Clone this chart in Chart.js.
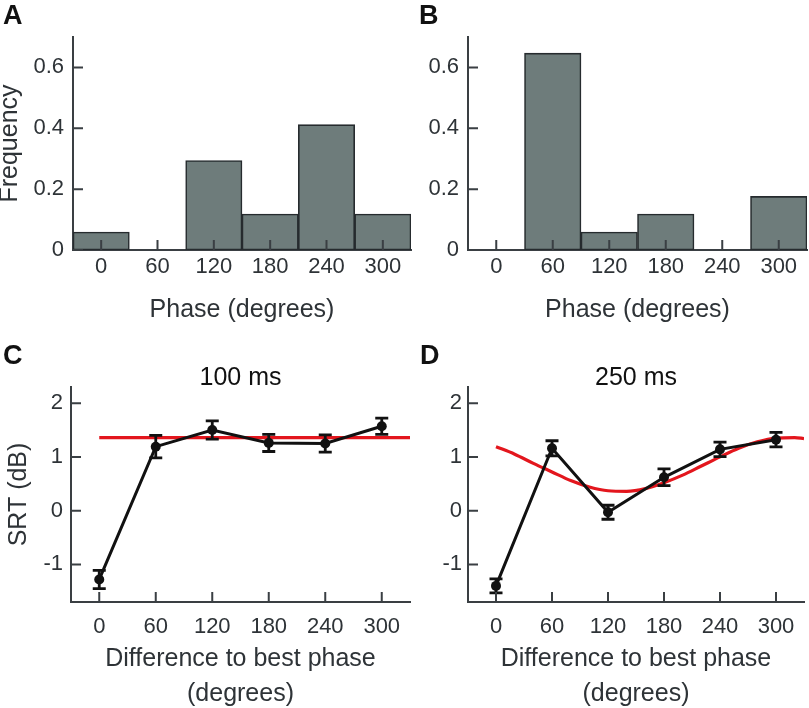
<!DOCTYPE html>
<html>
<head>
<meta charset="utf-8">
<script src="https://cdn.jsdelivr.net/npm/chart.js@4.4.1/dist/chart.umd.min.js"></script>
<style>
  body { margin: 0; background: #fff; overflow: hidden; }
  #wrap { position: relative; width: 809px; height: 708px; }
  canvas { position: absolute; }
  .letter { position: absolute; font: bold 27px 'Liberation Sans', Arial, sans-serif; line-height: 1; color: #111; }
</style>
</head>
<body>
<div id="wrap">
  <canvas id="chartA" width="415" height="340" style="left:0;top:0"></canvas>
  <canvas id="chartB" width="409" height="340" style="left:400px;top:0"></canvas>
  <canvas id="chartC" width="415" height="372" style="left:0;top:340px"></canvas>
  <canvas id="chartD" width="409" height="372" style="left:400px;top:340px"></canvas>
  <div class="letter" style="left:3px;top:2px">A</div>
  <div class="letter" style="left:419px;top:2px">B</div>
  <div class="letter" style="left:3px;top:342px">C</div>
  <div class="letter" style="left:420px;top:342px">D</div>
</div>
<script>
// histogram data (panels A, B)
const phaseLabels = ['0', '60', '120', '180', '240', '300'];
const freqA = [0.059, 0, 0.294, 0.118, 0.412, 0.118];
const freqB = [0, 0.647, 0.059, 0.118, 0, 0.176];
const freqTicks = [0, 0.2, 0.4, 0.6];

// SRT data (panels C, D)
const diffDeg = [0, 60, 120, 180, 240, 300];
const srt100 = [-1.28, 1.19, 1.50, 1.26, 1.25, 1.57];
const err100 = [0.17, 0.21, 0.17, 0.16, 0.16, 0.15];
const fit100X = [0, 330];
const fit100Y = [1.36, 1.36];
const srt250 = [-1.40, 1.16, -0.03, 0.62, 1.14, 1.32];
const err250 = [0.13, 0.14, 0.13, 0.155, 0.135, 0.135];
const fit250X = [0, 20, 40, 60, 80, 100, 120, 140, 160, 180, 200, 220, 240, 260, 280, 300, 320, 330];
const fit250Y = [1.19, 1.05, 0.88, 0.72, 0.56, 0.44, 0.37, 0.36, 0.41, 0.52, 0.66, 0.83, 1.00, 1.16, 1.28, 1.35, 1.36, 1.34];
const srtTicks = [-1, 0, 1, 2];

const axisColor = '#3a3f43';
const textColor = '#2e3337';
Chart.defaults.font.family = "'Liberation Sans', Arial, sans-serif";
Chart.defaults.color = textColor;

// MATLAB style: tick marks point into the plot
const inwardTicks = {
  id: 'inwardTicks',
  afterDatasetsDraw(chart) {
    const ctx = chart.ctx;
    const { left, bottom } = chart.chartArea;
    const xs = chart.scales.x, ys = chart.scales.y;
    ctx.save();
    ctx.strokeStyle = axisColor;
    ctx.lineWidth = 2;
    ctx.beginPath();
    xs.ticks.forEach((t, i) => {
      const px = xs.getPixelForTick(i);
      ctx.moveTo(px, bottom);
      ctx.lineTo(px, bottom - 10);
    });
    ys.ticks.forEach((t, i) => {
      const py = ys.getPixelForTick(i);
      ctx.moveTo(left, py);
      ctx.lineTo(left + 10, py);
    });
    ctx.stroke();
    ctx.restore();
  }
};

// error bars for the first dataset
const errBars = {
  id: 'errBars',
  afterDatasetDraw(chart, args, opts) {
    if (args.index !== 0 || !opts.values) return;
    const ctx = chart.ctx;
    const xs = chart.scales.x, ys = chart.scales.y;
    const ds = chart.data.datasets[0].data;
    ctx.save();
    ctx.strokeStyle = '#111';
    ctx.lineWidth = 2.8;
    ctx.beginPath();
    ds.forEach((p, i) => {
      const px = xs.getPixelForValue(p.x);
      const top = ys.getPixelForValue(p.y + opts.values[i]);
      const bot = ys.getPixelForValue(p.y - opts.values[i]);
      ctx.moveTo(px, top); ctx.lineTo(px, bot);
      ctx.moveTo(px - 6.5, top); ctx.lineTo(px + 6.5, top);
      ctx.moveTo(px - 6.5, bot); ctx.lineTo(px + 6.5, bot);
    });
    ctx.stroke();
    ctx.restore();
  }
};

function histogram(id, values, yWidth, padRight, yTitle) {
  return new Chart(document.getElementById(id), {
    type: 'bar',
    data: {
      labels: phaseLabels,
      datasets: [{
        data: values,
        backgroundColor: '#6e7c7b',
        borderColor: '#262b2e',
        borderWidth: 1.6,
        borderSkipped: false,
        categoryPercentage: 1,
        barPercentage: 1,
      }],
    },
    options: {
      responsive: false,
      animation: false,
      layout: { padding: { top: 37, right: padRight, left: 0, bottom: 0 } },
      plugins: { legend: { display: false }, tooltip: { enabled: false } },
      scales: {
        x: {
          type: 'category',
          offset: true,
          grid: { display: false, drawTicks: false },
          border: { display: true, color: axisColor, width: 2 },
          ticks: { font: { size: 22 }, padding: 4, maxRotation: 0 },
          title: { display: true, text: 'Phase (degrees)', font: { size: 25 }, padding: { top: 0, bottom: 15 } },
          afterFit: (s) => { s.height = 90; },
        },
        y: {
          min: 0,
          max: 0.7,
          grid: { display: false, drawTicks: false },
          border: { display: true, color: axisColor, width: 2 },
          ticks: { font: { size: 22 }, padding: 9 },
          title: { display: !!yTitle, text: yTitle || '', font: { size: 25 }, padding: { top: -4.5 } },
          afterBuildTicks: (s) => { s.ticks = freqTicks.map(v => ({ value: v })); },
          afterFit: (s) => { s.width = yWidth; },
        },
      },
    },
    plugins: [inwardTicks],
  });
}

function srtPanel(id, values, errs, fitX, fitY, title, yWidth, padRight, yPad, yTitle) {
  return new Chart(document.getElementById(id), {
    type: 'line',
    data: {
      datasets: [
        {
          data: diffDeg.map((d, i) => ({ x: d, y: values[i] })),
          borderColor: '#111',
          borderWidth: 3,
          pointRadius: 5,
          pointBackgroundColor: '#111',
          pointBorderWidth: 0,
        },
        {
          data: fitX.map((d, i) => ({ x: d, y: fitY[i] })),
          borderColor: '#e3161d',
          borderWidth: 3.2,
          pointRadius: 0,
          cubicInterpolationMode: 'monotone',
        },
      ],
    },
    options: {
      responsive: false,
      animation: false,
      layout: { padding: { top: 0, right: padRight, left: 0, bottom: 0 } },
      plugins: {
        legend: { display: false },
        tooltip: { enabled: false },
        title: {
          display: true,
          text: title,
          fullSize: false,
          color: '#111',
          font: { size: 25, weight: 'normal', lineHeight: 1 },
          padding: { top: 25.5, bottom: -3.5 },
        },
        errBars: { values: errs },
      },
      scales: {
        x: {
          type: 'linear',
          min: -30,
          max: 330,
          grid: { display: false, drawTicks: false },
          border: { display: true, color: axisColor, width: 2 },
          ticks: { font: { size: 22 }, padding: 12 },
          title: {
            display: true,
            text: ['Difference to best phase', '(degrees)'],
            font: { size: 25, lineHeight: 1.4 },
            padding: { top: 0, bottom: 0 },
          },
          afterBuildTicks: (s) => { s.ticks = diffDeg.map(v => ({ value: v })); },
          afterFit: (s) => { s.height = 110; },
        },
        y: {
          min: -1.7,
          max: 2.3,
          grid: { display: false, drawTicks: false },
          border: { display: true, color: axisColor, width: 2 },
          ticks: { font: { size: 22 }, padding: yPad },
          title: { display: !!yTitle, text: yTitle || '', font: { size: 25 }, padding: { top: 4 } },
          afterBuildTicks: (s) => { s.ticks = srtTicks.map(v => ({ value: v })); },
          afterFit: (s) => { s.width = yWidth; },
        },
      },
    },
    plugins: [errBars, inwardTicks],
  });
}

histogram('chartA', freqA, 73, 4, 'Frequency');
histogram('chartB', freqB, 68, 2, null);
srtPanel('chartC', srt100, err100, fit100X, fit100Y, '100 ms', 71, 3, 8, 'SRT (dB)');
srtPanel('chartD', srt250, err250, fit250X, fit250Y, '250 ms', 68, 2, 6, null);
</script>
</body>
</html>
